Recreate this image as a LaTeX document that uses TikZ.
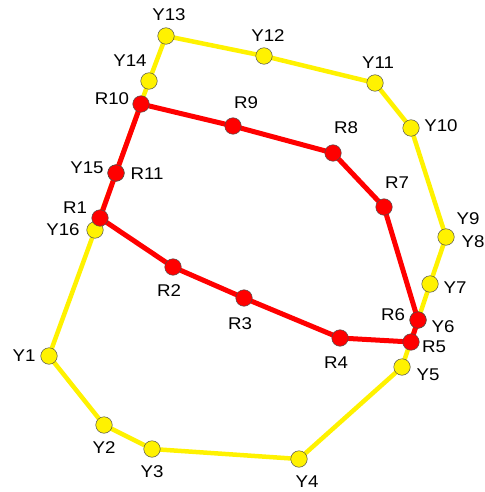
\documentclass[tikz,border=0pt]{standalone}
\usepackage{fontspec}
\setmainfont{Liberation Sans}
\newfontfamily\lblfont[FakeStretch=1.1]{Liberation Sans}
\begin{document}
\begin{tikzpicture}[x=1pt,y=-1pt,
  yel/.style={circle,draw=black!70,line width=0.5pt,fill=yellow,minimum size=16.5pt,inner sep=0pt},
  rd/.style={circle,draw=black!70,line width=0.5pt,fill=red,minimum size=16.5pt,inner sep=0pt},
  yline/.style={draw=yellow,line width=4.5pt,line join=round},
  rline/.style={draw=red,line width=5pt,line join=round},
  lbl/.style={inner sep=0pt,font=\lblfont\fontsize{17}{17}\selectfont}]
\useasboundingbox (0,0) rectangle (484,492);
% yellow coordinates
\coordinate (y1) at (49,356);
\coordinate (y2) at (104,425);
\coordinate (y3) at (152,449);
\coordinate (y4) at (299,459);
\coordinate (y5) at (402,367);
\coordinate (y6) at (418,320);
\coordinate (y7) at (430,284);
\coordinate (y8) at (446,237);
\coordinate (y10) at (411,128);
\coordinate (y11) at (375,83);
\coordinate (y12) at (264,56);
\coordinate (y13) at (166,36);
\coordinate (y14) at (149,81);
\coordinate (y15) at (116,173);
\coordinate (y16) at (95,230);
% red coordinates
\coordinate (r1) at (100,218);
\coordinate (r2) at (173,267);
\coordinate (r3) at (244,298);
\coordinate (r4) at (340,338);
\coordinate (r5) at (411,342);
\coordinate (r6) at (418,320);
\coordinate (r7) at (384,207);
\coordinate (r8) at (333,153);
\coordinate (r9) at (233,126);
\coordinate (r10) at (141,104);
\coordinate (r11) at (116,173);
% yellow loop
\draw[yline] (y1) -- (y2) -- (y3) -- (y4) -- (y5) -- (y6) -- (y7) -- (y8) -- (y10) -- (y11) -- (y12) -- (y13) -- (y14) -- (y15) -- (y16) -- cycle;
\foreach \n in {1,2,3,4,5,6,7,8,10,11,12,13,14,15,16} \node[yel] (Y\n) at (y\n) {};
% red loop
\draw[rline] (r1) -- (r2) -- (r3) -- (r4) -- (r5) -- (r6) -- (r7) -- (r8) -- (r9) -- (r10) -- (r11) -- cycle;
\foreach \n in {1,...,11} \node[rd] (R\n) at (r\n) {};
% labels
\node[lbl] (tY1) at (24,356) {Y1};
\node[lbl] (tY2) at (104,448) {Y2};
\node[lbl] (tY3) at (152,472) {Y3};
\node[lbl] (tY4) at (307,482) {Y4};
\node[lbl] (tY5) at (428,375) {Y5};
\node[lbl] (tY6) at (443,327) {Y6};
\node[lbl] (tY7) at (455,288) {Y7};
\node[lbl] (tY8) at (473,242) {Y8};
\node[lbl] (tY9) at (468,219) {Y9};
\node[lbl] (tY10) at (441,126) {Y10};
\node[lbl] (tY11) at (378,63) {Y11};
\node[lbl] (tY12) at (268,36) {Y12};
\node[lbl] (tY13) at (169,15) {Y13};
\node[lbl] (tY14) at (130,61) {Y14};
\node[lbl] (tY15) at (87,168) {Y15};
\node[lbl] (tY16) at (63,230) {Y16};
\node[lbl] (tR1) at (75,208) {R1};
\node[lbl] (tR2) at (169,291) {R2};
\node[lbl] (tR3) at (240,324) {R3};
\node[lbl] (tR4) at (336,363) {R4};
\node[lbl] (tR5) at (434,347) {R5};
\node[lbl] (tR6) at (393,315) {R6};
\node[lbl] (tR7) at (397,183) {R7};
\node[lbl] (tR8) at (346,128) {R8};
\node[lbl] (tR9) at (246,103) {R9};
\node[lbl] (tR10) at (112,99) {R10};
\node[lbl] (tR11) at (147,174) {R11};
\end{tikzpicture}
\end{document}
